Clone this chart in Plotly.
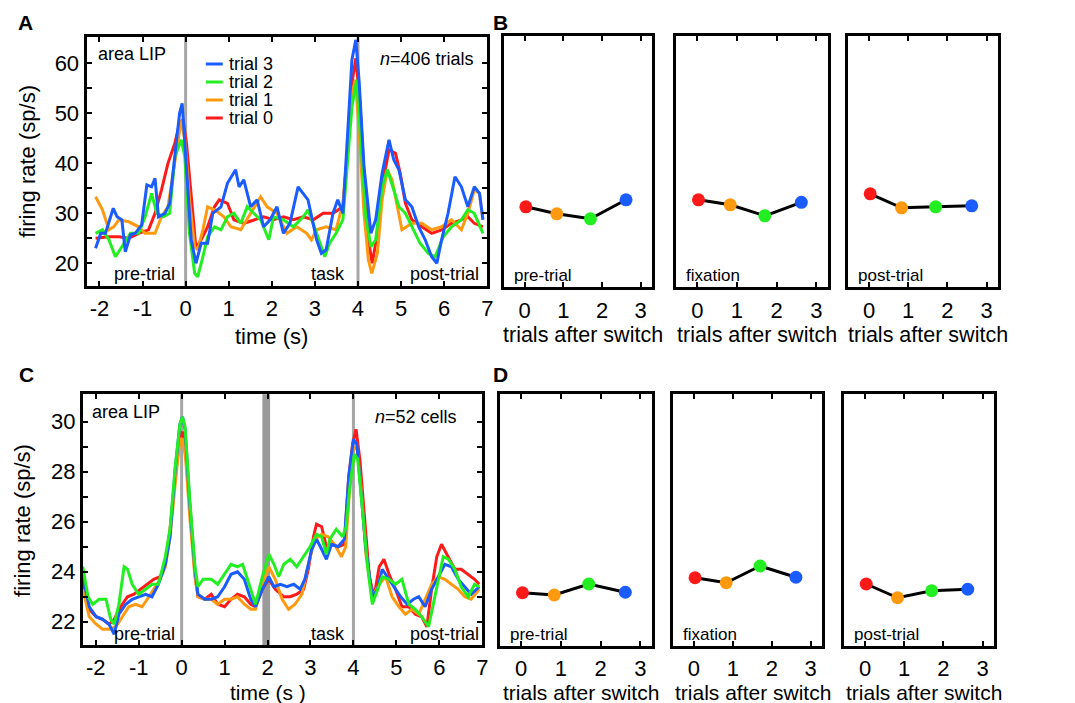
import plotly.graph_objects as go

W, H = 1075, 703
FONT = "Liberation Sans, Arial, Helvetica, sans-serif"

TRIALS = ["trial 0", "trial 1", "trial 2", "trial 3"]
COLORS = ["#ff1a1a", "#ff9a10", "#22ee22", "#1a5cff"]

# ---------------- Panel A (single-cell example, n=406 trials) ----------------
A_t0 = [-2.09, -1.78, -1.55, -1.32, -1.09, -0.86, -0.71, -0.56, -0.41, -0.25, -0.14, -0.06, 0.02, 0.13, 0.24,
        0.36, 0.51, 0.67, 0.78, 0.97, 1.12, 1.35, 1.58, 1.81, 2.04, 2.27, 2.50, 2.73, 2.96, 3.19, 3.42, 3.65,
        3.76, 3.86, 3.95, 4.04, 4.14, 4.24, 4.33, 4.45, 4.56, 4.72, 4.87, 4.98, 5.10, 5.25, 5.48, 5.71, 5.94,
        6.17, 6.40, 6.55, 6.70, 6.90]
A_r0 = [25, 25.3, 25.3, 25, 26, 26.7, 30, 34.7, 40, 44, 48, 48.7, 44, 32.7, 23,
        24.7, 27.3, 31.3, 32.7, 32, 28.7, 28, 28.7, 29.3, 28.7, 29.3, 28.7, 29.3, 28.7, 30, 30, 31.3,
        42.7, 56, 61, 52.7, 38, 24.7, 20, 26, 35.3, 42.7, 42, 38, 32, 28.7, 27.3, 26, 26.7,
        28, 28.7, 29.3, 28, 27.3]

A_t1 = [-2.09, -1.93, -1.78, -1.67, -1.55, -1.32, -1.09, -0.94, -0.71, -0.56, -0.41, -0.29, -0.18, -0.10, -0.02,
        0.09, 0.21, 0.28, 0.40, 0.51, 0.67, 0.89, 1.05, 1.28, 1.51, 1.74, 1.89, 2.12, 2.35, 2.58, 2.81, 2.92,
        3.04, 3.26, 3.49, 3.65, 3.76, 3.86, 3.94, 4.03, 4.14, 4.24, 4.32, 4.45, 4.56, 4.68, 4.79, 4.91, 5.02,
        5.25, 5.48, 5.71, 5.94, 6.17, 6.40, 6.55, 6.70, 6.82, 6.90]
A_r1 = [33.3, 30.7, 26.7, 27.3, 28.7, 28.3, 27.3, 26, 26, 29.3, 31.3, 38, 44.7, 48.7, 44.7,
        32.7, 23.3, 22.7, 26.7, 31.3, 30.7, 29.3, 27.3, 26.7, 30, 33.3, 31.3, 30, 26, 27.3, 26, 24.7,
        26.7, 27.3, 26.7, 32, 42.7, 54, 56.7, 46, 30, 20.7, 18, 22, 32.7, 38.7, 36.7, 31.3, 26.7,
        28, 28, 26.7, 27.3, 28.7, 26.7, 30, 34.7, 34, 28.7]

A_t2 = [-2.09, -1.93, -1.78, -1.63, -1.48, -1.28, -1.09, -0.94, -0.79, -0.67, -0.52, -0.37, -0.25, -0.10, -0.02,
        0.09, 0.21, 0.28, 0.40, 0.51, 0.67, 0.82, 0.97, 1.12, 1.28, 1.43, 1.58, 1.74, 1.93, 2.04, 2.27, 2.50,
        2.73, 2.84, 3.04, 3.23, 3.34, 3.49, 3.65, 3.76, 3.86, 3.97, 4.07, 4.18, 4.30, 4.41, 4.56, 4.68, 4.83,
        4.95, 5.10, 5.25, 5.44, 5.63, 5.79, 5.98, 6.17, 6.40, 6.55, 6.70, 6.90]
A_r2 = [26, 26.7, 24.7, 21.3, 23.3, 26, 26, 29.3, 34, 30, 29.3, 30, 41.3, 44.7, 41.3,
        26, 18, 17.3, 21.3, 25.3, 27.3, 26.7, 29.3, 30, 28, 31.3, 30, 28.7, 24.7, 29.3, 28.7, 27.3,
        29.3, 30.7, 26, 21.3, 24, 26, 28.7, 40.7, 51.3, 56.7, 42.7, 29.3, 23.3, 24.7, 35.3, 38.7, 34.7,
        31.3, 30, 27.3, 24, 22, 21.3, 25.3, 27.3, 28.7, 30.7, 30, 26]

A_t3 = [-2.09, -1.97, -1.86, -1.68, -1.59, -1.48, -1.40, -1.28, -1.17, -1.02, -0.90, -0.79, -0.71, -0.63, -0.48,
        -0.37, -0.21, -0.14, -0.08, 0.02, 0.13, 0.24, 0.36, 0.51, 0.63, 0.82, 0.97, 1.16, 1.24, 1.35, 1.51,
        1.66, 1.81, 1.96, 2.12, 2.27, 2.42, 2.61, 2.73, 2.84, 3.04, 3.15, 3.26, 3.42, 3.53, 3.65, 3.76, 3.86,
        3.95, 4.03, 4.14, 4.30, 4.41, 4.56, 4.72, 4.83, 4.95, 5.10, 5.25, 5.41, 5.56, 5.71, 5.83, 5.94, 6.09,
        6.25, 6.40, 6.55, 6.70, 6.82, 6.90]
A_r3 = [23, 26, 26, 31, 29.3, 28.7, 22.3, 25.7, 26, 27.7, 35.7, 35.3, 37, 29.3, 30,
        32, 44.7, 50, 52, 39.3, 24.7, 20, 24, 24, 30, 31.3, 36, 38.7, 35.3, 36.7, 31.3,
        32.7, 27.3, 28.7, 31.3, 26, 28, 35.3, 34, 32.7, 24.7, 22, 22.7, 30, 32.7, 30, 46, 60.7,
        64.7, 56, 39.3, 26, 28.7, 38, 44.7, 40.7, 38.7, 32.7, 31.3, 27.3, 24.7, 21.3, 20, 24.7, 30,
        37.3, 35.3, 31.3, 35.3, 34, 28.7]

# ---------------- Panel C (population, n=52 cells) ----------------
C_t0 = [-2.30, -2.15, -1.99, -1.84, -1.69, -1.57, -1.42, -1.26, -1.11, -0.96, -0.80, -0.65, -0.50, -0.38, -0.27,
        -0.15, -0.04, 0.02, 0.09, 0.19, 0.31, 0.38, 0.54, 0.69, 0.84, 1.00, 1.15, 1.30, 1.46, 1.61, 1.72,
        1.88, 2.03, 2.18, 2.38, 2.53, 2.68, 2.84, 2.95, 3.07, 3.14, 3.26, 3.37, 3.49, 3.64, 3.79, 3.89,
        3.98, 4.06, 4.15, 4.25, 4.37, 4.48, 4.60, 4.71, 4.83, 4.98, 5.13, 5.29, 5.44, 5.59, 5.71, 5.82,
        5.94, 6.05, 6.21, 6.36, 6.51, 6.67, 6.82, 6.93]
C_r0 = [23.5, 22.5, 22.2, 22.1, 21.9, 22.1, 22.6, 23, 23.1, 23.3, 23.5, 23.7, 23.8, 24.3, 25.7,
        27.8, 29.4, 29.6, 28.9, 26.5, 23.9, 23, 22.9, 23.1, 22.7, 22.6, 22.9, 23.1, 23, 22.7, 22.6,
        23.3, 23.7, 23.3, 23, 23, 23.1, 23.3, 24.1, 25.4, 25.9, 25.8, 25, 25.1, 25, 25.1, 27.8,
        29.1, 29.7, 28.5, 26.2, 23.8, 23, 24.2, 24.5, 23.9, 23.3, 22.6, 22.6, 22.3, 22.2, 21.8, 23.3,
        24.6, 25.1, 24.6, 24.1, 24.1, 23.9, 23.7, 23.5]

C_t1 = [-2.30, -2.15, -1.99, -1.84, -1.69, -1.53, -1.38, -1.23, -1.07, -0.92, -0.80, -0.65, -0.50, -0.38, -0.27,
        -0.15, -0.04, 0.02, 0.09, 0.19, 0.31, 0.38, 0.54, 0.69, 0.84, 1.00, 1.15, 1.30, 1.46, 1.61, 1.72,
        1.88, 2.03, 2.18, 2.34, 2.49, 2.64, 2.80, 2.95, 3.10, 3.26, 3.41, 3.56, 3.72, 3.82, 3.91, 4.00,
        4.08, 4.18, 4.29, 4.44, 4.60, 4.75, 4.90, 5.06, 5.21, 5.36, 5.52, 5.67, 5.82, 5.98, 6.13, 6.28,
        6.44, 6.59, 6.74, 6.93]
C_r1 = [23.3, 22.2, 21.9, 21.7, 21.7, 21.8, 22.2, 22.6, 22.7, 22.6, 22.9, 23.3, 23.7, 24.2, 25.4,
        27.5, 29.3, 29.3, 28.6, 26.2, 23.8, 23, 22.9, 22.9, 22.7, 22.9, 22.9, 23, 22.7, 22.5, 22.5,
        23.5, 24.2, 23.7, 22.9, 22.5, 22.7, 23.1, 24.3, 25.3, 25.5, 25.4, 25.1, 24.6, 25, 27.3, 28.9,
        29, 27.3, 24.7, 23, 23.5, 23.8, 23, 22.6, 22.3, 22.5, 22.3, 22.9, 23.5, 23.8, 23.7, 23.5,
        23.3, 23, 22.9, 23.3]

C_t2 = [-2.30, -2.18, -2.07, -1.92, -1.76, -1.65, -1.57, -1.46, -1.34, -1.26, -1.15, -1.00, -0.84, -0.69, -0.54,
        -0.38, -0.27, -0.15, -0.04, 0.02, 0.08, 0.19, 0.31, 0.38, 0.50, 0.69, 0.84, 1.00, 1.15, 1.30, 1.42,
        1.57, 1.72, 1.88, 2.03, 2.15, 2.26, 2.38, 2.53, 2.68, 2.84, 2.99, 3.14, 3.26, 3.37, 3.45, 3.60,
        3.75, 3.83, 3.91, 4.02, 4.10, 4.21, 4.33, 4.44, 4.56, 4.67, 4.83, 4.98, 5.13, 5.29, 5.44, 5.59,
        5.75, 5.86, 5.98, 6.09, 6.21, 6.36, 6.51, 6.67, 6.82, 6.93]
C_r2 = [24.2, 23, 22.7, 22.9, 22.9, 22.1, 21.9, 22.7, 24.2, 24.1, 23.5, 23.1, 23.3, 23.5, 23.5,
        24.6, 25.7, 28.2, 29.9, 30.2, 29.8, 26.9, 24.2, 23.4, 23.7, 23.7, 23.5, 23.9, 24.3, 24.2, 24.3,
        23.5, 22.7, 23.8, 24.7, 24.3, 23.8, 24.3, 24.5, 24.2, 24.6, 25, 25.5, 25.4, 24.7, 25.3, 25.7,
        25.4, 25.8, 27.3, 28.7, 28.5, 26.5, 24.2, 22.7, 23.3, 23.8, 23.7, 23.5, 23.7, 22.7, 22.5, 22.2,
        21.8, 22.7, 23.8, 24.6, 24.5, 24.1, 23.4, 23, 23.5, 23.4]

C_t3 = [-2.30, -2.15, -1.99, -1.84, -1.69, -1.57, -1.46, -1.30, -1.15, -1.00, -0.84, -0.69, -0.54, -0.38, -0.27,
        -0.15, -0.04, 0.02, 0.08, 0.19, 0.31, 0.38, 0.54, 0.69, 0.84, 1.00, 1.15, 1.30, 1.46, 1.61, 1.72,
        1.88, 2.03, 2.15, 2.30, 2.45, 2.61, 2.76, 2.87, 3.03, 3.14, 3.26, 3.37, 3.49, 3.64, 3.79, 3.89,
        4.00, 4.08, 4.18, 4.29, 4.44, 4.56, 4.67, 4.79, 4.94, 5.10, 5.25, 5.40, 5.52, 5.67, 5.82, 5.98,
        6.13, 6.28, 6.44, 6.59, 6.74, 6.93]
C_r3 = [23.8, 22.6, 22.2, 22.1, 21.9, 21.5, 22.3, 22.7, 22.9, 23, 23.1, 23, 23.5, 24.3, 25.4,
        28.1, 29.9, 30.2, 29.7, 26.7, 24.1, 23.1, 22.9, 22.9, 23, 23.4, 23.9, 24, 23.7, 22.9, 22.6,
        23.3, 23.8, 23.4, 23.5, 23.4, 23.5, 23.3, 23.7, 24.9, 25.3, 24.9, 24.5, 25.1, 25, 25.3, 27.8,
        29.3, 29.1, 27.1, 24.9, 23, 23.3, 24.1, 23.8, 23.4, 23, 22.7, 22.9, 23, 22.6, 23.3, 23.8,
        24.3, 24.2, 23.7, 23.4, 23.1, 23.4]

# ---------------- Panels B and D (mean rate per epoch vs trials after switch) ----------------
SWITCH_X = [0.03, 0.83, 1.70, 2.62]
EPOCHS = ["pre-trial", "fixation", "post-trial"]
B_rates = [[31.3, 29.9, 28.9, 32.7],
           [32.7, 31.7, 29.5, 32.2],
           [33.9, 31.1, 31.3, 31.5]]
D_rates = [[23.16, 23.07, 23.51, 23.18],
           [23.76, 23.56, 24.23, 23.78],
           [23.51, 22.96, 23.24, 23.30]]

# ---------------- layout geometry (pixels) ----------------
def fx(p):
    return p / W


def fy(p):
    return 1 - p / H


BOX = {
    "A": (87, 490, 36.5, 286),
    "B1": (507, 656, 36, 287.3), "B2": (680, 833, 36, 287.3), "B3": (853, 1004, 36, 287.3),
    "C": (83.3, 485, 394.3, 645),
    "D1": (503, 656, 394, 646), "D2": (677, 827, 394, 646), "D3": (849, 1000, 394, 646),
}
ORDER = ["A", "B1", "B2", "B3", "C", "D1", "D2", "D3"]
AXN = {k: i + 1 for i, k in enumerate(ORDER)}

A_YRANGE = [15.46, 65.36]
B_YRANGE = [15.2, 65.46]
C_YRANGE = [21.07, 31.1]
D_YRANGE = [21.03, 31.11]
T_RANGE = [-2.30, 7.0]
S_RANGE = [-0.53, 3.30]

TICK_SIZE = 22
TITLE_SIZE = 22

fig = go.Figure()


def ax_names(k):
    n = AXN[k]
    return ("x" if n == 1 else f"x{n}"), ("y" if n == 1 else f"y{n}")


def add_line(k, t, r, color):
    xa, ya = ax_names(k)
    fig.add_trace(go.Scatter(x=t, y=r, mode="lines", xaxis=xa, yaxis=ya,
                             line=dict(color=color, width=3), showlegend=False, hoverinfo="skip"))


# Panel A: red, orange, green, blue (blue on top)
for t, r, c in [(A_t0, A_r0, COLORS[0]), (A_t1, A_r1, COLORS[1]), (A_t2, A_r2, COLORS[2]), (A_t3, A_r3, COLORS[3])]:
    add_line("A", t, r, c)
# Panel C: red, orange, blue, green (green on top)
for t, r, c in [(C_t0, C_r0, COLORS[0]), (C_t1, C_r1, COLORS[1]), (C_t3, C_r3, COLORS[3]), (C_t2, C_r2, COLORS[2])]:
    add_line("C", t, r, c)

for i, ep in enumerate(EPOCHS):
    for pfx, rates in (("B", B_rates), ("D", D_rates)):
        k = f"{pfx}{i + 1}"
        xa, ya = ax_names(k)
        fig.add_trace(go.Scatter(x=SWITCH_X, y=rates[i], mode="lines", xaxis=xa, yaxis=ya,
                                 line=dict(color="black", width=3), showlegend=False, hoverinfo="skip"))
        fig.add_trace(go.Scatter(x=SWITCH_X, y=rates[i], mode="markers", xaxis=xa, yaxis=ya,
                                 marker=dict(color=COLORS, size=13, line=dict(width=0)),
                                 showlegend=False, hoverinfo="skip"))

base_axis = dict(showline=True, linecolor="black", linewidth=3, mirror="ticks", ticks="inside",
                 ticklen=5, tickwidth=1.5, tickcolor="black", showgrid=False, zeroline=False,
                 tickfont=dict(family=FONT, size=TICK_SIZE, color="black"), fixedrange=True)

layout = dict(width=W, height=H, autosize=False, margin=dict(l=0, r=0, t=0, b=0),
              paper_bgcolor="white", plot_bgcolor="white", font=dict(family=FONT, color="black"),
              showlegend=False)

for k in ORDER:
    n = AXN[k]
    x0, x1, y0, y1 = BOX[k]
    xkey = "xaxis" if n == 1 else f"xaxis{n}"
    ykey = "yaxis" if n == 1 else f"yaxis{n}"
    yanchor = "y" if n == 1 else f"y{n}"
    xanchor = "x" if n == 1 else f"x{n}"
    xa = dict(base_axis, domain=[fx(x0), fx(x1)], anchor=yanchor, ticklabelstandoff=1)
    ya = dict(base_axis, domain=[fy(y1), fy(y0)], anchor=xanchor, ticklabelstandoff=0)
    if k in ("A", "C"):
        xa.update(range=T_RANGE, tickvals=list(range(-2, 8)),
                  ticktext=[str(v) for v in range(-2, 8)])
        if k == "A":
            vals = list(range(20, 65, 5))
            ya.update(range=A_YRANGE, tickvals=vals, ticktext=[str(v) if v % 10 == 0 else "" for v in vals])
        else:
            vals = list(range(22, 31))
            ya.update(range=C_YRANGE, tickvals=vals, ticktext=[str(v) if v % 2 == 0 else "" for v in vals])
    else:
        xa.update(range=S_RANGE, tickvals=[0, 1, 2, 3], ticktext=["0", "1", "2", "3"])
        ya.update(range=B_YRANGE if k.startswith("B") else D_YRANGE, ticks="", showticklabels=False)
    layout[xkey] = xa
    layout[ykey] = ya

fig.update_layout(**layout)

# epoch markers (gray lines / band)
shapes = []
for k in ("A", "C"):
    xa, ya = ax_names(k)
    for tv in (0, 4):
        shapes.append(dict(type="line", xref=xa, yref=f"{ya} domain", x0=tv, x1=tv, y0=0, y1=1,
                           line=dict(color="#a6a6a6", width=3), layer="below"))
shapes.append(dict(type="rect", xref="x5", yref="y5 domain", x0=1.88, x1=2.06, y0=0, y1=1,
                   fillcolor="#9a9a9a", line=dict(width=0), layer="below"))

# legend in panel A (manual)
LEG_ROWS = [("trial 3", COLORS[3]), ("trial 2", COLORS[2]), ("trial 1", COLORS[1]), ("trial 0", COLORS[0])]
annotations = []
for i, (name, col) in enumerate(LEG_ROWS):
    yy = 64 + 18 * i
    shapes.append(dict(type="line", xref="paper", yref="paper", x0=fx(207), x1=fx(224), y0=fy(yy), y1=fy(yy),
                       line=dict(color=col, width=3)))
    annotations.append(dict(x=fx(228), y=fy(yy), xref="paper", yref="paper", text=name, showarrow=False,
                            xanchor="left", yanchor="middle", font=dict(size=18)))


def txt(x, y, s, size=18, xanchor="left", **kw):
    annotations.append(dict(x=fx(x), y=fy(y), xref="paper", yref="paper", text=s, showarrow=False,
                            xanchor=xanchor, yanchor="middle", font=dict(size=size, family=FONT, color="black"), **kw))


# panel letters
for s, x, y in (("A", 26, 22), ("B", 503, 22), ("C", 27, 375), ("D", 503, 375)):
    txt(x, y, f"<b>{s}</b>", size=21, xanchor="center")

# panel A / C inner labels
txt(97, 54, "area LIP")
txt(113, 274, "pre-trial")
txt(311, 274, "task")
txt(410, 274, "post-trial")
txt(479, 59, "<i>n</i>=406 trials", xanchor="right")
txt(91, 412, "area LIP")
txt(113, 634, "pre-trial")
txt(311, 634, "task")
txt(410, 634, "post-trial")
txt(462, 417, "<i>n</i>=52 cells", xanchor="right")

# axis titles
txt(27, 161, "firing rate (sp/s)", size=TITLE_SIZE, xanchor="center", textangle=-90)
txt(22, 520, "firing rate (sp/s)", size=TITLE_SIZE, xanchor="center", textangle=-90)
txt(273, 336, "time (s)", size=TITLE_SIZE, xanchor="center")
txt(270, 692, "time (s )", size=21, xanchor="center")

# epoch labels + x titles in B and D
for i, ep in enumerate(EPOCHS):
    for pfx, ylab, ytit, tsz in (("B", 275, 335, 21.5), ("D", 634, 692, 21)):
        x0, x1, _, _ = BOX[f"{pfx}{i + 1}"]
        txt(x0 + 8, ylab, ep, size=17)
        txt((x0 + x1) / 2 + 5, ytit, "trials after switch", size=tsz, xanchor="center")

fig.update_layout(shapes=shapes, annotations=annotations)
fig.write_html("out.html")
